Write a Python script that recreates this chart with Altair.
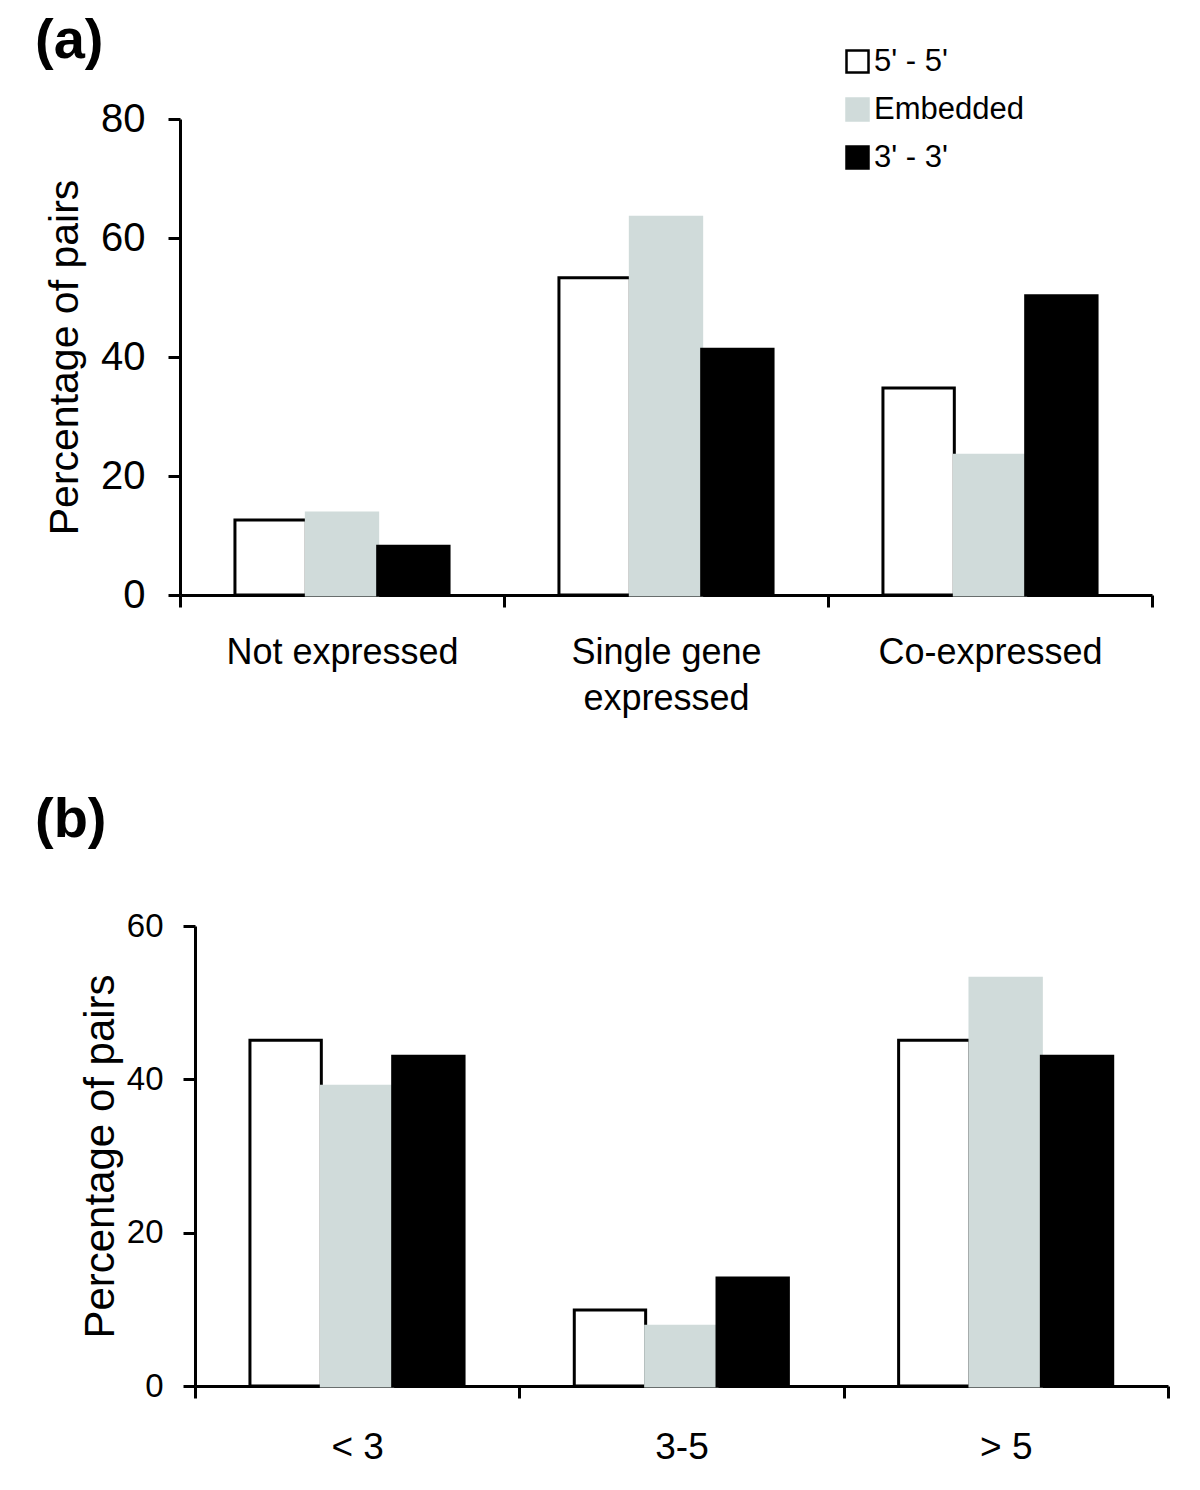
import altair as alt
import pandas as pd

FONT = "Liberation Sans"

series = ["5' - 5'", "Embedded", "3' - 3'"]
fills = ["#ffffff", "#d0dbda", "#000000"]
strokes = ["#000000", "#d0dbda", "#000000"]

cats_a = ["Not expressed", "Single gene expressed", "Co-expressed"]
five_a = [12.6, 53.3, 34.8]
emb_a = [13.8, 63.5, 23.5]
three_a = [8.2, 41.3, 50.3]

cats_b = ["< 3", "3-5", "> 5"]
five_b = [45.1, 9.9, 45.1]
emb_b = [39.1, 7.8, 53.2]
three_b = [43.0, 14.1, 43.0]


def make_df(cats, vals_list):
    rows = []
    for s, vals in zip(series, vals_list):
        for c, v in zip(cats, vals):
            rows.append({"cat": c, "series": s, "value": v})
    return pd.DataFrame(rows)


def panel(df, cats, ymax, yvals, width, height, xrange, yoffset, letter,
          letter_x, letter_y, xlab_size, ylab_size, title_size, xlab_pad,
          ylab_pad, title_pad, show_legend):
    if show_legend:
        leg = alt.Legend(orient="none", legendX=662, legendY=-73, title=None,
                         symbolType="square", symbolSize=484,
                         symbolStrokeWidth=2.5, labelFontSize=31,
                         labelFont=FONT, labelColor="black", rowPadding=15,
                         labelOffset=1, symbolOpacity=1)
    else:
        leg = None
    xscale = alt.Scale(paddingInner=0, paddingOuter=0)
    if xrange is not None:
        xscale = alt.Scale(paddingInner=0, paddingOuter=0, range=xrange)
    bars = alt.Chart(df).mark_bar(strokeWidth=3, strokeJoin="miter").encode(
        x=alt.X("cat:N", sort=cats, title=None, scale=xscale,
                axis=alt.Axis(tickBand="extent", tickSize=12, tickWidth=3,
                              tickColor="black", domainWidth=3,
                              domainColor="black", labelFontSize=xlab_size,
                              labelFont=FONT, labelColor="black",
                              labelPadding=xlab_pad, labelAngle=0,
                              labelLineHeight=46, labelLimit=0,
                              labelExpr="datum.label == 'Single gene expressed' ? ['Single gene', 'expressed'] : datum.label")),
        xOffset=alt.XOffset("series:N", sort=series,
                            scale=alt.Scale(paddingInner=0, paddingOuter=0.77)),
        y=alt.Y("value:Q", scale=alt.Scale(domain=[0, ymax], nice=False),
                axis=alt.Axis(values=yvals, grid=False, tickSize=12,
                              tickWidth=3, tickColor="black", domainWidth=3,
                              domainColor="black", labelFontSize=ylab_size,
                              labelFont=FONT, labelColor="black",
                              labelPadding=ylab_pad, offset=yoffset,
                              title="Percentage of pairs",
                              titleFont=FONT, titleFontSize=title_size,
                              titleFontWeight="normal", titleColor="black",
                              titlePadding=title_pad)),
        fill=alt.Fill("series:N", sort=series,
                      scale=alt.Scale(domain=series, range=fills), legend=leg),
        stroke=alt.Stroke("series:N", sort=series,
                          scale=alt.Scale(domain=series, range=strokes),
                          legend=leg),
    )
    lab = alt.Chart(pd.DataFrame({"t": [letter]})).mark_text(
        font=FONT, fontSize=56, fontWeight="bold", align="left",
        baseline="alphabetic", color="black").encode(
        x=alt.value(letter_x), y=alt.value(letter_y), text="t:N")
    return alt.layer(bars, lab).properties(width=width, height=height)


pa = panel(make_df(cats_a, [five_a, emb_a, three_a]), cats_a, 80,
           [0, 20, 40, 60, 80], 972, 476, None, 0, "(a)", -145, -61,
           36, 40, 41, 28, 23, 14, True)
pb = panel(make_df(cats_b, [five_b, emb_b, three_b]), cats_b, 60,
           [0, 20, 40, 60], 988, 460, [15, 988], -15, "(b)", -145, -89,
           37, 33, 42, 31, 20, 4, False)

chart = alt.vconcat(pa, pb, spacing=76).resolve_legend(
    fill="independent", stroke="independent").properties(
    padding={"left": 27, "top": 5, "right": 0, "bottom": 0}
).configure_view(stroke=None)

chart.save("out.html", embed_options={"renderer": "svg", "actions": False})
